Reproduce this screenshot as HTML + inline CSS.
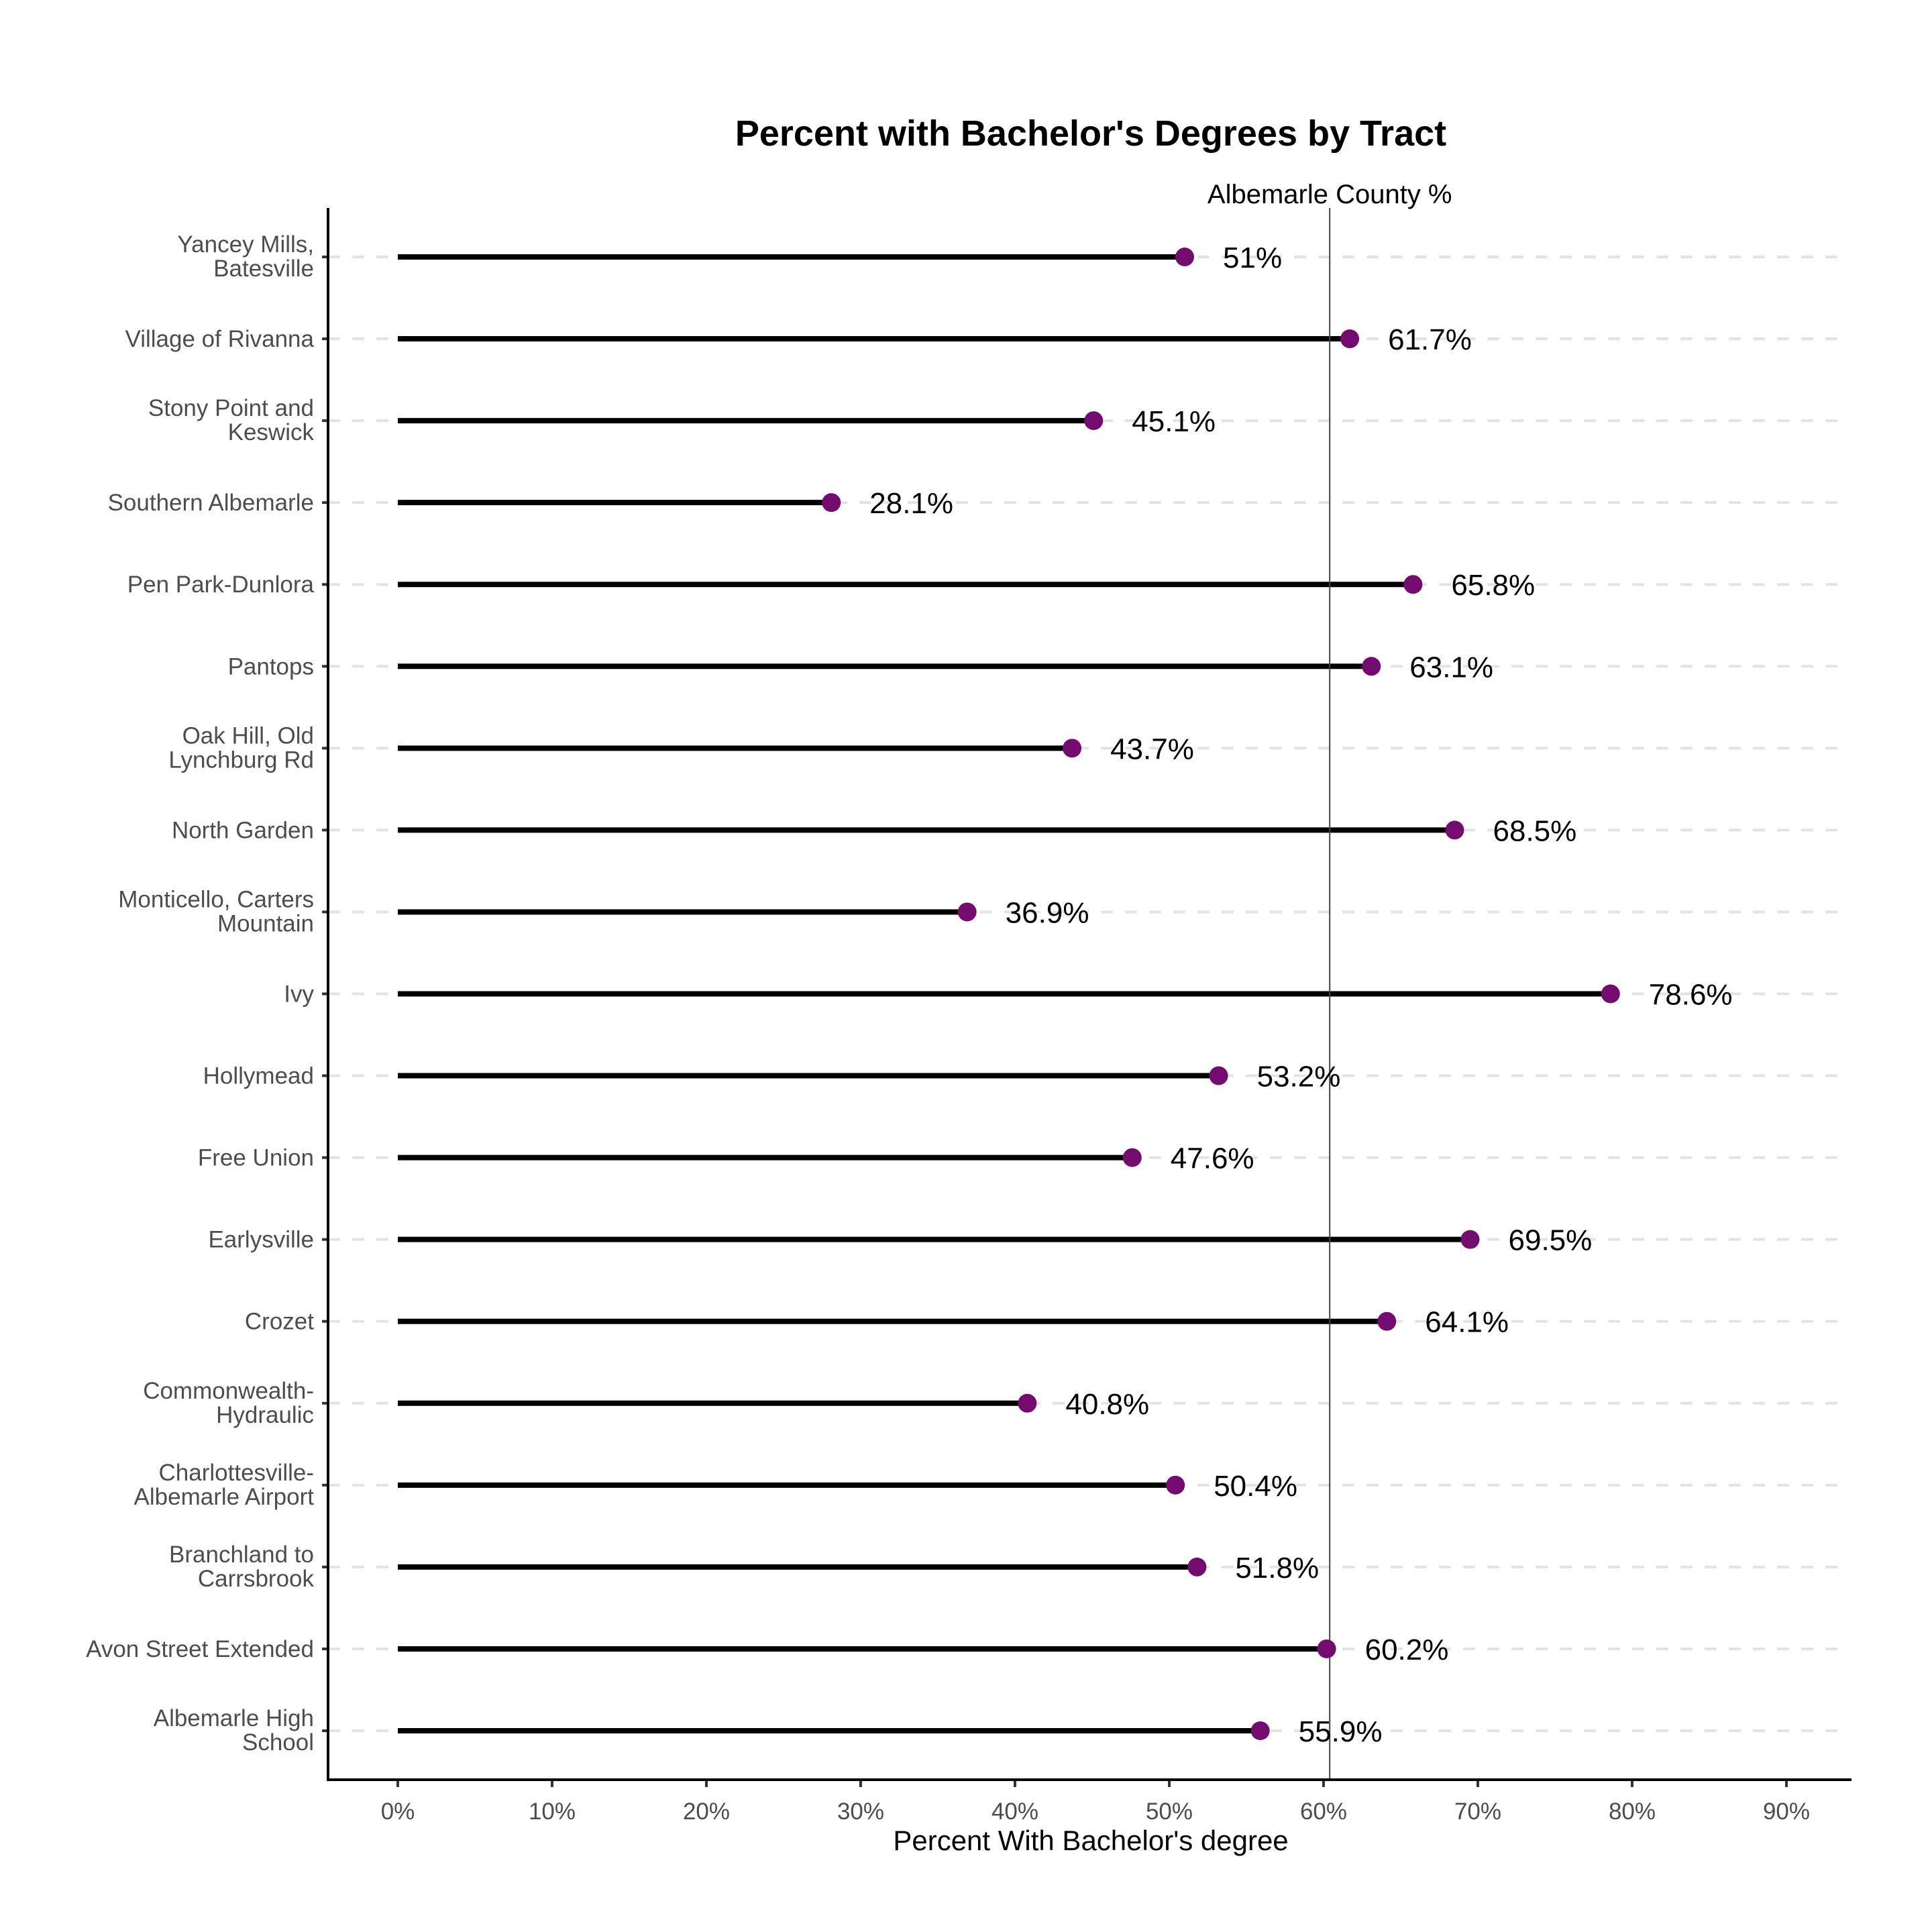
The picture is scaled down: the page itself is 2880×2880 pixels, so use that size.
<!DOCTYPE html>
<html><head><meta charset="utf-8"><style>
html,body{margin:0;padding:0;background:#fff;}
svg{display:block;font-family:"Liberation Sans",sans-serif;}
</style></head><body>
<svg id="chart" width="2880" height="2880" viewBox="0 0 2880 2880">
<text x="1626" y="217" text-anchor="middle" font-size="54" font-weight="bold" fill="#000">Percent with Bachelor's Degrees by Tract</text>
<g id="grid"></g><g id="stems"></g><g id="refline"></g><g id="points"></g><g id="labels"></g><g id="axes"></g>
<text x="1626" y="2758" text-anchor="middle" font-size="42" fill="#000">Percent With Bachelor's degree</text>
</svg>
<script>
const categories = ["Yancey Mills,|Batesville","Village of Rivanna","Stony Point and|Keswick","Southern Albemarle","Pen Park-Dunlora","Pantops","Oak Hill, Old|Lynchburg Rd","North Garden","Monticello, Carters|Mountain","Ivy","Hollymead","Free Union","Earlysville","Crozet","Commonwealth-|Hydraulic","Charlottesville-|Albemarle Airport","Branchland to|Carrsbrook","Avon Street Extended","Albemarle High|School"];
const values = [51,61.7,45.1,28.1,65.8,63.1,43.7,68.5,36.9,78.6,53.2,47.6,69.5,64.1,40.8,50.4,51.8,60.2,55.9];
const valueLabels = ["51%","61.7%","45.1%","28.1%","65.8%","63.1%","43.7%","68.5%","36.9%","78.6%","53.2%","47.6%","69.5%","64.1%","40.8%","50.4%","51.8%","60.2%","55.9%"];
const countyPct = [60.4];
const xTicks = [0,10,20,30,40,50,60,70,80,90];
const xTickLabels = ["0%","10%","20%","30%","40%","50%","60%","70%","80%","90%"];

const NS="http://www.w3.org/2000/svg";
const L=489,R=2760,T=310,B=2653;
const x=v=>593+v*23;
const y=i=>383+i*(2580-383)/(categories.length-1);
function mk(tag,attrs,parent){const e=document.createElementNS(NS,tag);for(const k in attrs)e.setAttribute(k,attrs[k]);document.getElementById(parent).appendChild(e);return e;}

categories.forEach((c,i)=>{
  const g=mk('line',{x1:L,x2:R-10,y1:y(i),y2:y(i),stroke:'#e3e3e3','stroke-width':4,'stroke-dasharray':'18 18'},'grid');
  
  
  const s=mk('line',{x1:x(0),x2:x(values[i]),y1:y(i),y2:y(i),stroke:'#000','stroke-width':8},'stems');
  
  
  const p=mk('circle',{cx:x(values[i]),cy:y(i),r:14,fill:'#740b6f'},'points');
  
  
  const t=mk('text',{x:x(values[i])+57,y:y(i)+16,'font-size':44,fill:'#000'},'labels');
  t.textContent=valueLabels[i];
  
  
  const parts=c.split('|');
  const yt=mk('text',{x:468,'font-size':35,fill:'#4d4d4d','text-anchor':'end'},'axes');
  
  
  const base = parts.length===1 ? y(i)+12 : y(i)-7;
  parts.forEach((pt,j)=>{const ts=document.createElementNS(NS,'tspan');ts.setAttribute('x',468);ts.setAttribute('y',base+j*36);ts.textContent=pt;yt.appendChild(ts);});
  const tk=mk('line',{x1:L-9,x2:L,y1:y(i),y2:y(i),stroke:'#333','stroke-width':4},'axes');
  
  
});
const rl=mk('line',{x1:x(countyPct[0]),x2:x(countyPct[0]),y1:T,y2:B,stroke:'#444','stroke-width':2},'refline');


const rt=mk('text',{x:x(countyPct[0]),y:303,'font-size':40,fill:'#000','text-anchor':'middle'},'refline');
rt.textContent='Albemarle County %';


xTicks.forEach((v,i)=>{
  const tk=mk('line',{x1:x(v),x2:x(v),y1:B,y2:B+11,stroke:'#333','stroke-width':4},'axes');
  
  
  const tl=mk('text',{x:x(v),y:B+59,'font-size':35,fill:'#4d4d4d','text-anchor':'middle'},'axes');
  tl.textContent=xTickLabels[i];
  
  
});
const ya=mk('line',{x1:L,x2:L,y1:T,y2:B+2,stroke:'#000','stroke-width':4},'axes');


const xa=mk('line',{x1:L-2,x2:R,y1:B,y2:B,stroke:'#000','stroke-width':4},'axes');


</script>
</body></html>
